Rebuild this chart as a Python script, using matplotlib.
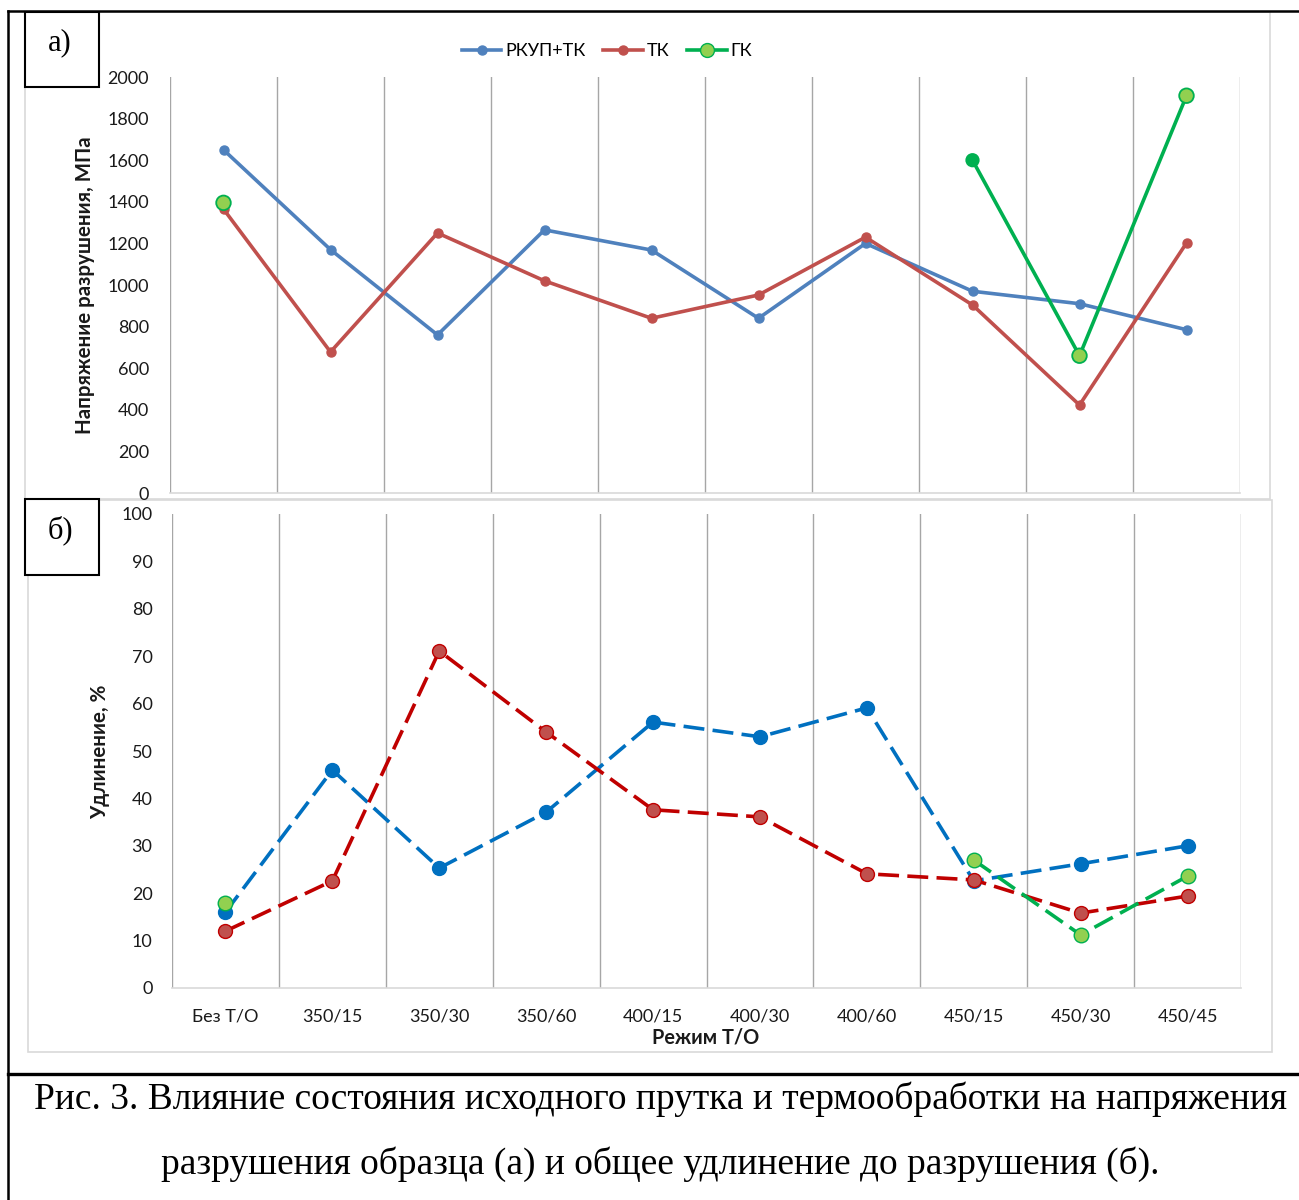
import numpy as np
import matplotlib
matplotlib.use("Agg")
import matplotlib.pyplot as plt
from matplotlib.lines import Line2D
from matplotlib.patches import Rectangle

# ---------------- data ----------------
categories = ["Без Т/О", "350/15", "350/30", "350/60", "400/15",
              "400/30", "400/60", "450/15", "450/30", "450/45"]

stress_rkup = [1650, 1170, 760, 1265, 1168, 840, 1200, 970, 910, 785]
stress_tk = [1365, 678, 1250, 1020, 840, 952, 1230, 904, 423, 1202]
stress_gk = [1395, np.nan, np.nan, np.nan, np.nan, np.nan, np.nan, 1600, 660, 1910]

elong_rkup = [16.0, 46.0, 25.3, 37.1, 56.1, 53.0, 59.1, 22.6, 26.2, 30.0]
elong_tk = [12.0, 22.6, 71.1, 54.0, 37.6, 36.1, 24.1, 22.8, 15.8, 19.4]
elong_gk = [18.0, np.nan, np.nan, np.nan, np.nan, np.nan, np.nan, 27.0, 11.2, 23.6]

series_names = ["РКУП+ТК", "ТК", "ГК"]
stress_ticks = list(range(0, 2001, 200))
elong_ticks = list(range(0, 101, 10))

caption_lines = ["Рис. 3. Влияние состояния исходного прутка и термообработки на напряжения",
                 "разрушения образца (а) и общее удлинение до разрушения (б)."]

# ---------------- figure ----------------
W, H = 1299, 1200
fig = plt.figure(figsize=(W / 100, H / 100), dpi=100)
plt.rcParams['font.family'] = ['Lato', 'DejaVu Sans']

def fx(x):
    return x / W

def fy(y):
    return 1 - y / H

def add_rect(x0, y0, x1, y1, ec, lw, fc='none', z=0):
    r = Rectangle((fx(x0), fy(y1)), fx(x1) - fx(x0), fy(y0) - fy(y1),
                  transform=fig.transFigure, ec=ec, fc=fc, lw=lw, zorder=z)
    fig.add_artist(r)

def add_line(xs, ys, color='black', lw=2.0, z=5):
    fig.add_artist(Line2D([fx(v) for v in xs], [fy(v) for v in ys],
                          transform=fig.transFigure, color=color, lw=lw, zorder=z))

# chart-area borders (light gray)
add_rect(25, 12, 1270, 499, '#D9D9D9', 1.2)
add_rect(28, 500, 1272, 1052, '#D9D9D9', 1.2)

# page frame lines
add_line([8, 8], [11, 1200], lw=1.8)
add_line([8, 1299], [11, 11], lw=1.8)
add_line([8, 1299], [1074, 1074], lw=2.4)

x = np.arange(len(categories))

C_BLUE1, C_RED1 = '#4F81BD', '#C0504D'
C_GREEN, C_LGREEN = '#00B050', '#92D050'
C_BLUE2, C_RED2 = '#0070C0', '#C00000'

def style_axes(ax, yticks, ypad):
    ax.set_xlim(-0.5, len(categories) - 0.5)
    ax.set_xticks(np.arange(-0.5, len(categories), 1.0), minor=True)
    ax.grid(True, which='minor', axis='x', color='#A6A6A6', lw=1.0)
    ax.set_yticks(yticks)
    ax.set_ylim(yticks[0], yticks[-1])
    for s in ['top', 'right', 'left']:
        ax.spines[s].set_visible(False)
    ax.spines['bottom'].set_color('#D9D9D9')
    ax.spines['bottom'].set_linewidth(1.2)
    ax.tick_params(which='both', length=0)
    ax.tick_params(axis='y', pad=ypad, labelsize=13, colors='#1a1a1a')
    ax.set_facecolor('none')

# ---------------- top panel ----------------
ax1 = fig.add_axes([fx(170), fy(493), fx(1240) - fx(170), fy(77) - fy(493)])
style_axes(ax1, stress_ticks, 15)
ax1.set_xticks(x)
ax1.set_xticklabels([])
ax1.plot(x, stress_rkup, color=C_BLUE1, lw=2.6, marker='o', ms=6.5, zorder=3)
ax1.plot(x, stress_tk, color=C_RED1, lw=2.6, marker='o', ms=6.5, zorder=3)
gk_face1 = [C_LGREEN] * len(categories)
gk_face1[7] = C_GREEN
gk_size1 = [110] * len(categories)
gk_size1[7] = 80
ax1.plot(x, stress_gk, color=C_GREEN, lw=2.6, zorder=4)
ax1.scatter(x, stress_gk, s=gk_size1, c=gk_face1, edgecolors=C_GREEN, linewidths=1.3, zorder=5)

fig.text(fx(85), fy(285), "Напряжение разрушения, МПа", rotation=90, ha='center',
         va='center', fontsize=14.8, fontweight='bold', color='#1a1a1a')

handles = [
    Line2D([], [], color=C_BLUE1, lw=2.6, marker='o', ms=6.5),
    Line2D([], [], color=C_RED1, lw=2.6, marker='o', ms=6.5),
    Line2D([], [], color=C_GREEN, lw=2.6, marker='o', ms=10, mfc=C_LGREEN, mec=C_GREEN),
]
fig.legend(handles, series_names, loc='center', bbox_to_anchor=(fx(607), fy(51)),
           ncol=3, frameon=False, fontsize=13, handlelength=2.2, handletextpad=0.2,
           columnspacing=1.0)

# ---------------- bottom panel ----------------
ax2 = fig.add_axes([fx(172), fy(988), fx(1241) - fx(172), fy(514) - fy(988)])
style_axes(ax2, elong_ticks, 14)
ax2.set_xticks(x)
ax2.set_xticklabels(categories, fontsize=13, color='#1a1a1a')
ax2.tick_params(axis='x', pad=15)
dash = (5.8, 2.3)
ax2.plot(x, elong_rkup, color=C_BLUE2, lw=2.6, dashes=dash, marker='o', ms=10,
         mfc=C_BLUE2, mec=C_BLUE2, zorder=3)
ax2.plot(x, elong_tk, color=C_RED2, lw=2.6, dashes=dash, marker='o', ms=10,
         mfc=C_RED1, mec=C_RED2, zorder=3)
ax2.plot(x, elong_gk, color=C_GREEN, lw=2.6, dashes=dash, zorder=4)
ax2.scatter(x, elong_gk, s=110, c=C_LGREEN, edgecolors=C_GREEN, linewidths=1.0, zorder=5)

fig.text(fx(100), fy(752), "Удлинение, %", rotation=90, ha='center', va='center',
         fontsize=14.8, fontweight='bold', color='#1a1a1a')
fig.text(fx(706), fy(1038), "Режим Т/О", ha='center', va='center',
         fontsize=14.3, fontweight='bold', color='#1a1a1a')

# ---------------- panel label boxes ----------------
add_rect(25, 12, 99, 87, 'black', 1.5, fc='white', z=6)
add_rect(25, 499, 99, 575, 'black', 1.5, fc='white', z=6)
fig.text(fx(60), fy(43), "а)", ha='center', va='center', fontsize=22,
         family='Liberation Serif', zorder=7)
fig.text(fx(60), fy(530), "б)", ha='center', va='center', fontsize=22,
         family='Liberation Serif', zorder=7)

# ---------------- caption ----------------
fig.text(fx(660), fy(1099), caption_lines[0], ha='center', va='center',
         fontsize=27, family='Liberation Serif')
fig.text(fx(660), fy(1164), caption_lines[1], ha='center', va='center',
         fontsize=27, family='Liberation Serif')

fig.savefig("out.png", dpi=100)
